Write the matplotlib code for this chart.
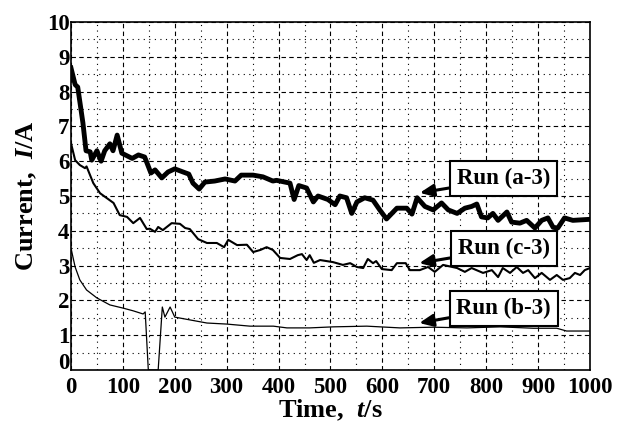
import matplotlib
matplotlib.use('Agg')
import matplotlib.pyplot as plt
from matplotlib.ticker import MultipleLocator, FuncFormatter

plt.rcParams['font.family'] = 'Liberation Serif'
plt.rcParams['font.weight'] = 'bold'
plt.rcParams['axes.labelweight'] = 'bold'
plt.rcParams['mathtext.fontset'] = 'custom'
plt.rcParams['mathtext.it'] = 'Liberation Serif:bold:italic'
plt.rcParams['mathtext.rm'] = 'Liberation Serif:bold'

# Run (a-3)
t_a = [0, 8, 13, 23, 29, 37, 40, 50, 58, 65, 75, 81, 89, 98, 118, 130, 142, 154, 162, 175,
       187, 200, 216, 227, 235, 247, 258, 277, 297, 316, 328, 351, 370, 389, 396, 422, 430,
       439, 454, 467, 476, 495, 509, 518, 531, 541, 551, 566, 582, 595, 608, 628, 647, 657,
       667, 682, 698, 714, 727, 744, 759, 772, 782, 791, 803, 813, 823, 840, 849, 865, 878,
       894, 907, 919, 929, 938, 951, 967, 1000]
i_a = [8.68, 8.2, 8.13, 7.1, 6.3, 6.27, 6.03, 6.3, 6.0, 6.3, 6.5, 6.3, 6.75, 6.23, 6.08,
       6.18, 6.12, 5.66, 5.75, 5.52, 5.69, 5.78, 5.69, 5.63, 5.37, 5.2, 5.4, 5.43, 5.49, 5.43,
       5.6, 5.6, 5.55, 5.43, 5.45, 5.37, 4.9, 5.3, 5.23, 4.83, 5.0, 4.9, 4.75, 5.0, 4.95, 4.5,
       4.83, 4.95, 4.88, 4.6, 4.34, 4.65, 4.65, 4.48, 4.95, 4.7, 4.6, 4.8, 4.6, 4.5, 4.65,
       4.7, 4.77, 4.4, 4.37, 4.5, 4.3, 4.54, 4.25, 4.22, 4.3, 4.08, 4.3, 4.37, 4.1, 4.08,
       4.37, 4.3, 4.33]

# Run (c-3)
t_c = [0, 8, 17, 27, 30, 43, 56, 69, 82, 94, 108, 120, 133, 146, 152, 162, 168, 177, 194,
       210, 220, 229, 245, 262, 281, 295, 303, 320, 339, 351, 365, 377, 389, 403, 422, 437,
       445, 454, 460, 468, 480, 505, 524, 538, 551, 563, 572, 582, 588, 599, 618, 628, 645,
       653, 672, 688, 701, 717, 744, 759, 772, 794, 811, 823, 832, 846, 859, 871, 881, 894,
       907, 923, 936, 948, 961, 971, 981, 990, 1000]
i_c = [6.52, 6.03, 5.89, 5.8, 5.85, 5.37, 5.08, 4.94, 4.8, 4.45, 4.4, 4.22, 4.37, 4.05,
       4.06, 3.97, 4.11, 4.02, 4.22, 4.2, 4.08, 4.05, 3.76, 3.65, 3.65, 3.53, 3.74, 3.59,
       3.6, 3.39, 3.45, 3.53, 3.45, 3.22, 3.19, 3.3, 3.33, 3.16, 3.3, 3.08, 3.16, 3.1, 3.02,
       3.07, 2.96, 2.93, 3.19, 3.07, 3.13, 2.9, 2.87, 3.07, 3.07, 2.87, 2.87, 2.96, 2.82,
       3.02, 2.93, 2.82, 2.93, 2.79, 2.87, 2.67, 2.93, 2.79, 2.96, 2.79, 2.87, 2.64, 2.79,
       2.59, 2.73, 2.59, 2.64, 2.79, 2.73, 2.87, 2.93]

# Run (b-3)
t_b = [0, 8, 17, 30, 50, 75, 100, 120, 139, 143, 149, 168, 176, 181, 191, 200, 229, 262,
       300, 345, 390, 416, 460, 505, 570, 634, 698, 763, 827, 891, 936, 955, 1000]
i_b = [3.5, 2.96, 2.59, 2.3, 2.07, 1.87, 1.78, 1.7, 1.61, 1.67, 0.0, 0.0, 1.81, 1.52, 1.81,
       1.52, 1.44, 1.35, 1.32, 1.26, 1.26, 1.21, 1.21, 1.24, 1.26, 1.21, 1.23, 1.21, 1.24,
       1.2, 1.2, 1.12, 1.12]

fig = plt.figure(figsize=(6.21, 4.28), dpi=100)
ax = fig.add_axes([0.1143, 0.1355, 0.8357, 0.8131])

ax.plot(t_a, i_a, color='black', lw=3.5, solid_joinstyle='round')
ax.plot(t_c, i_c, color='black', lw=1.5, solid_joinstyle='round')
ax.plot(t_b, i_b, color='black', lw=0.9, solid_joinstyle='round')

ax.set_xlim(0, 1000)
ax.set_ylim(0, 10)
ax.xaxis.set_major_locator(MultipleLocator(100))
ax.yaxis.set_major_locator(MultipleLocator(1))
ax.xaxis.set_minor_locator(MultipleLocator(50))
ax.yaxis.set_minor_locator(MultipleLocator(0.5))
# y "0" is drawn by hand a little higher, clear of the x "0"
ax.yaxis.set_major_formatter(FuncFormatter(lambda v, p: '' if v == 0 else '%d' % v))
ax.grid(which='major', color='black', linestyle=(0, (4, 3)), lw=0.8)
ax.grid(which='minor', color='black', linestyle=(0, (1, 4)), lw=0.8)
ax.tick_params(which='both', length=0, labelsize=16.5)
ax.tick_params(axis='x', pad=5)
ax.tick_params(axis='y', pad=1)
for s in ax.spines.values():
    s.set_linewidth(1.2)
ax.annotate('0', xy=(0, 0), xycoords=('axes fraction', 'data'), xytext=(-1, 5),
            textcoords='offset points', ha='right', va='center', fontsize=16.5)

ax.set_xlabel(r'Time,  $\it{t}$/s', fontsize=19, labelpad=0)
ax.set_ylabel(r'Current,  $\it{I}$/A', fontsize=19, labelpad=6)

labels = ['Run (a-3)', 'Run (c-3)', 'Run (b-3)']
tips = [(672, 5.09), (671, 3.07), (671, 1.35)]
boxes = [(834, 5.49), (834, 3.48), (834, 1.78)]
for lab, tip, box in zip(labels, tips, boxes):
    ax.annotate(lab, xy=tip, xytext=box, fontsize=16.5, ha='center', va='center',
                bbox=dict(boxstyle='square,pad=0.3', fc='white', ec='black', lw=1.5),
                arrowprops=dict(arrowstyle='-|>,head_length=0.5,head_width=0.22',
                                color='black', lw=2.2, shrinkA=0, shrinkB=0))

fig.savefig('out.png', dpi=100)
